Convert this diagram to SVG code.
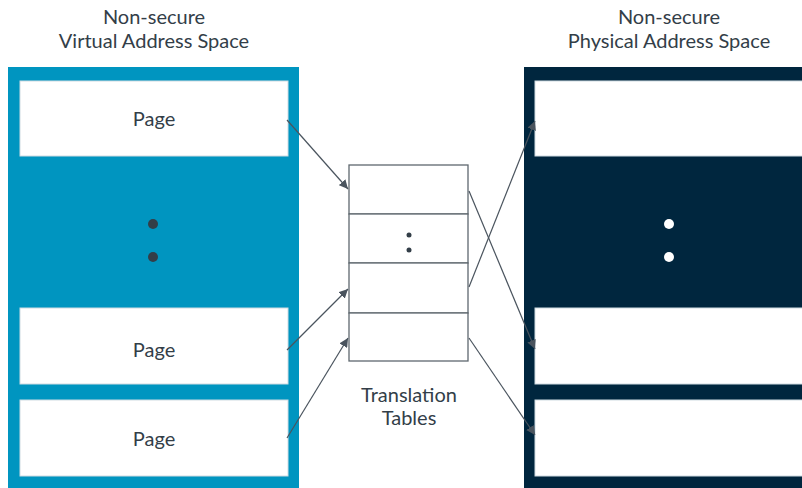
<svg xmlns="http://www.w3.org/2000/svg" width="802" height="488" viewBox="0 0 802 488">
<style>
text{font-family:Lato,"Liberation Sans",sans-serif;fill:#333e48;font-size:20px;text-anchor:middle}
.pg{fill:#ffffff;stroke:#d0dbe2;stroke-width:1}
.tb{fill:#ffffff;stroke:#5f686f;stroke-width:1.3}
.cn{stroke:#4a545e;stroke-width:1.2;fill:none;marker-end:url(#ah)}
</style>
<defs>
<marker id="ah" viewBox="0 0 10 10" refX="10" refY="5" markerWidth="9" markerHeight="9" markerUnits="userSpaceOnUse" orient="auto">
<path d="M0,0 L10,5 L0,10 z" fill="#4a545e"/>
</marker>
</defs>
<rect width="802" height="488" fill="#ffffff"/>
<g id="virtual-space">
<text x="154" y="24">Non-secure</text>
<text x="154" y="48">Virtual Address Space</text>
<rect x="8" y="67" width="291" height="421" fill="#0095c0"/>
<rect class="pg" x="20" y="81" width="268" height="75"/>
<text x="154" y="126">Page</text>
<circle cx="153" cy="224" r="5" fill="#333e48"/>
<circle cx="153" cy="257" r="5" fill="#333e48"/>
<rect class="pg" x="20" y="308" width="268" height="76"/>
<text x="154" y="357">Page</text>
<rect class="pg" x="20" y="400" width="268" height="76"/>
<text x="154" y="446">Page</text>
</g>
<g id="physical-space">
<text x="669" y="24">Non-secure</text>
<text x="669" y="48">Physical Address Space</text>
<rect x="524" y="67" width="278" height="421" fill="#00263e"/>
<rect class="pg" x="535" y="81" width="268" height="75"/>
<circle cx="669" cy="224" r="5" fill="#ffffff"/>
<circle cx="669" cy="257" r="5" fill="#ffffff"/>
<rect class="pg" x="535" y="308" width="268" height="76"/>
<rect class="pg" x="535" y="400" width="268" height="76"/>
</g>
<g id="translation-tables">
<rect class="tb" x="349" y="165" width="119" height="49"/>
<rect class="tb" x="349" y="214" width="119" height="49"/>
<rect class="tb" x="349" y="263" width="119" height="50"/>
<rect class="tb" x="349" y="313" width="119" height="48"/>
<circle cx="409" cy="235" r="2.5" fill="#333e48"/>
<circle cx="409" cy="250" r="2.5" fill="#333e48"/>
<text x="409" y="402">Translation</text>
<text x="409" y="425">Tables</text>
</g>
<g id="connectors">
<line class="cn" x1="287" y1="120" x2="348" y2="189"/>
<line class="cn" x1="287" y1="350" x2="348" y2="289"/>
<line class="cn" x1="287" y1="438" x2="348" y2="338"/>
<line class="cn" x1="469" y1="287" x2="535" y2="121"/>
<line class="cn" x1="469" y1="191" x2="535" y2="349"/>
<line class="cn" x1="469" y1="338" x2="535" y2="435"/>
</g>
</svg>
